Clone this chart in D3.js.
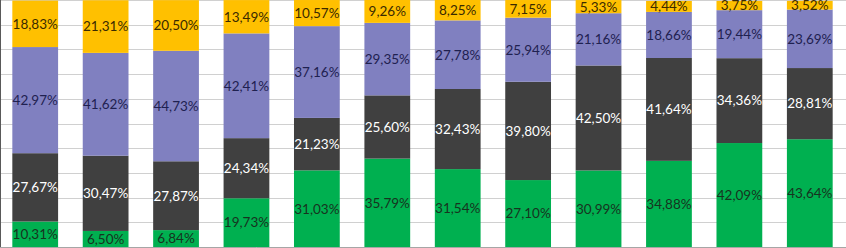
<!DOCTYPE html>
<html>
<head>
<meta charset="utf-8">
<script src="https://cdn.jsdelivr.net/npm/d3@7"></script>
<style>
  body { margin: 0; background: #fff; }
  .label { font-family: Lato, "Open Sans", sans-serif; font-size: 13.5px; }
</style>
</head>
<body>
<script>
// Values per series, in percent, one entry per bar (left to right)
var categories = ["1", "2", "3", "4", "5", "6", "7", "8", "9", "10", "11", "12"];
var greenValues = [10.31, 6.50, 6.84, 19.73, 31.03, 35.79, 31.54, 27.10, 30.99, 34.88, 42.09, 43.64];
var darkValues = [27.67, 30.47, 27.87, 24.34, 21.23, 25.60, 32.43, 39.80, 42.50, 41.64, 34.36, 28.81];
var lavenderValues = [42.97, 41.62, 44.73, 42.41, 37.16, 29.35, 27.78, 25.94, 21.16, 18.66, 19.44, 23.69];
var yellowValues = [18.83, 21.31, 20.50, 13.49, 10.57, 9.26, 8.25, 7.15, 5.33, 4.44, 3.75, 3.52];
var gridTicks = [0, 10, 20, 30, 40, 50, 60, 70, 80, 90, 100];

var width = 846, height = 248;

var svg = d3.select("body")
    .append("svg")
    .attr("width", width)
    .attr("height", height);

// Series settings: key, fill and label colour
var series = [
    {key: "green", fill: "#00b050", text: "#17331f", values: greenValues},
    {key: "dark", fill: "#404040", text: "#ffffff", values: darkValues},
    {key: "lavender", fill: "#8080c0", text: "#1f2150", values: lavenderValues},
    {key: "yellow", fill: "#ffc000", text: "#3a2a00", values: yellowValues}
];

var data = categories.map(function(c, i) {
    var row = {cat: c};
    series.forEach(function(s) { row[s.key] = s.values[i]; });
    return row;
});

var xScale = d3.scaleBand()
    .domain(categories)
    .range([0, 845])
    .paddingInner(0.35)
    .paddingOuter(0.175);

var yScale = d3.scaleLinear()
    .domain([0, 100])
    .range([247, 0]);

// Gridlines
svg.append("g")
    .selectAll("line")
    .data(gridTicks)
    .enter()
    .append("line")
    .attr("x1", 0)
    .attr("x2", width)
    .attr("y1", function(d) { return Math.round(yScale(d)) + 0.5; })
    .attr("y2", function(d) { return Math.round(yScale(d)) + 0.5; })
    .attr("stroke", "#d0d0d0")
    .attr("stroke-width", 1);

var stack = d3.stack().keys(series.map(function(s) { return s.key; }));
var layers = stack(data);

var groups = svg.selectAll(".layer")
    .data(layers)
    .enter()
    .append("g")
    .attr("class", "layer");

groups.selectAll("rect")
    .data(function(d) { return d; })
    .enter()
    .append("rect")
    .attr("x", function(d) { return xScale(d.data.cat); })
    .attr("width", xScale.bandwidth())
    .attr("y", function(d) { return yScale(d[1]); })
    .attr("height", function(d) { return yScale(d[0]) - yScale(d[1]); })
    .attr("fill", function(d, i, nodes) { return series[layers.indexOf(d3.select(nodes[i].parentNode).datum())].fill; });

// Value labels in the middle of each segment
var fmt = function(v) { return v.toFixed(2).replace(".", ",") + "%"; };

layers.forEach(function(layer, li) {
    svg.append("g")
        .selectAll("text")
        .data(layer)
        .enter()
        .append("text")
        .attr("class", "label")
        .attr("x", function(d) { return xScale(d.data.cat) + xScale.bandwidth() / 2; })
        .attr("y", function(d) { return (yScale(d[0]) + yScale(d[1])) / 2; })
        .attr("dy", "0.36em")
        .attr("text-anchor", "middle")
        .attr("fill", series[li].text)
        .text(function(d) { return fmt(d[1] - d[0]); });
});

// Axis lines
svg.append("line")
    .attr("x1", 0.5).attr("x2", 0.5)
    .attr("y1", 0).attr("y2", 248)
    .attr("stroke", "#595959");
svg.append("line")
    .attr("x1", 0).attr("x2", width)
    .attr("y1", 247.5).attr("y2", 247.5)
    .attr("stroke", "#a6a6a6");
</script>
</body>
</html>
